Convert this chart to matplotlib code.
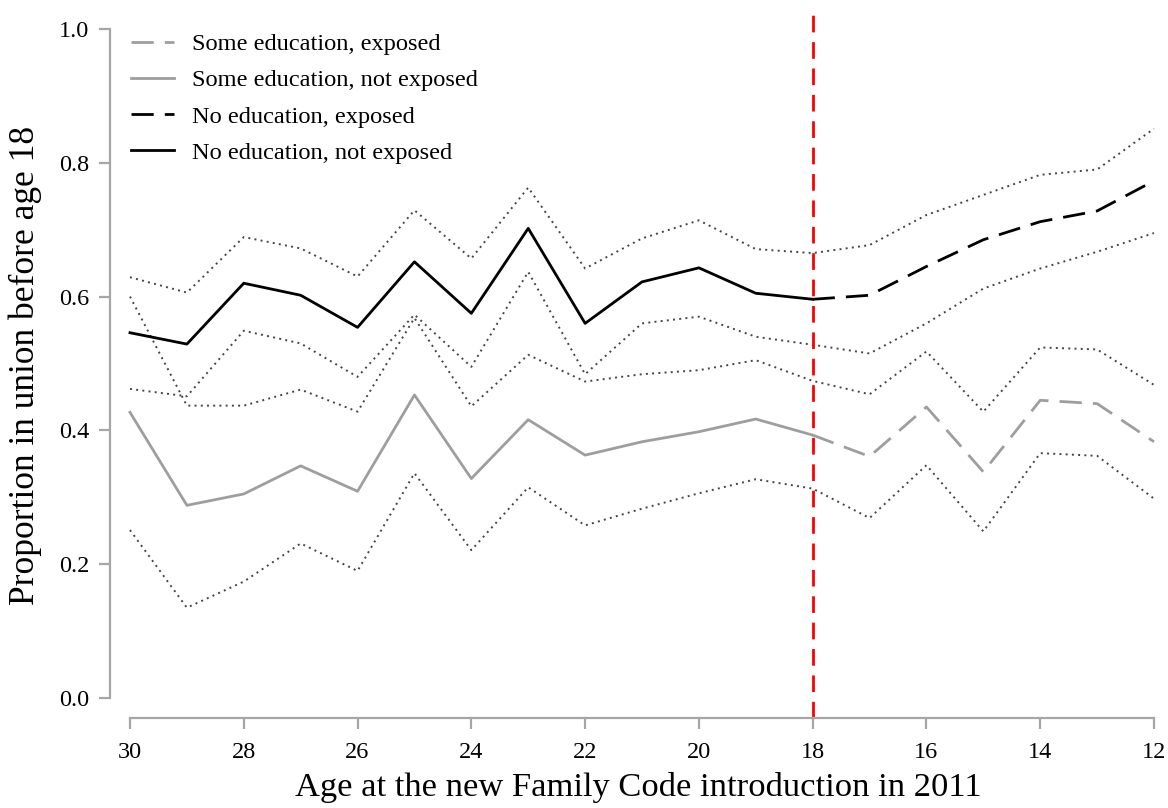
import matplotlib
matplotlib.use('Agg')
import matplotlib.pyplot as plt

plt.rcParams['font.family'] = ['Liberation Serif', 'DejaVu Serif']

# age at the reform, and proportion in union before 18
ages = [30, 29, 28, 27, 26, 25, 24, 23, 22, 21, 20, 19, 18, 17, 16, 15, 14, 13, 12]

no_edu = [0.546, 0.529, 0.620, 0.602, 0.554, 0.652, 0.575, 0.702, 0.560, 0.622,
          0.643, 0.605, 0.596, 0.602, 0.645, 0.685, 0.712, 0.728, 0.773]
no_edu_hi = [0.629, 0.606, 0.689, 0.672, 0.630, 0.729, 0.657, 0.763, 0.642, 0.687,
             0.714, 0.671, 0.665, 0.677, 0.722, 0.752, 0.782, 0.790, 0.851]
no_edu_lo = [0.462, 0.451, 0.549, 0.530, 0.480, 0.573, 0.495, 0.637, 0.484, 0.560,
             0.570, 0.540, 0.528, 0.515, 0.560, 0.612, 0.642, 0.667, 0.695]

some_edu = [0.427, 0.288, 0.305, 0.347, 0.309, 0.453, 0.328, 0.416, 0.363, 0.383,
            0.398, 0.417, 0.393, 0.361, 0.435, 0.338, 0.445, 0.440, 0.383]
some_edu_hi = [0.600, 0.437, 0.437, 0.461, 0.428, 0.568, 0.436, 0.513, 0.473, 0.484,
               0.490, 0.505, 0.474, 0.454, 0.518, 0.428, 0.524, 0.521, 0.468]
some_edu_lo = [0.251, 0.135, 0.174, 0.231, 0.190, 0.336, 0.221, 0.315, 0.258, 0.283,
               0.306, 0.327, 0.313, 0.269, 0.348, 0.249, 0.366, 0.362, 0.298]

cutoff = 18
xticks = [30, 28, 26, 24, 22, 20, 18, 16, 14, 12]
yticks = [0.0, 0.2, 0.4, 0.6, 0.8, 1.0]

gray = '#9e9e9e'
axis_gray = '#a6a6a6'
dot_col = '#444444'

W, H = 1168, 808
fig = plt.figure(figsize=(W / 100, H / 100), dpi=100)
# plot region in pixels: left 110, right 1166, top 12, bottom 718
ax = fig.add_axes([110 / W, 1 - 718 / H, (1166 - 110) / W, (718 - 12) / H])

px_per_year = (1154 - 130) / 18.0
px_per_unit = 698 - 29
ax.set_xlim(30 + 20 / px_per_year, 30 - (1166 - 130) / px_per_year)
ax.set_ylim(-(718 - 698) / px_per_unit, 1 + (29 - 12) / px_per_unit)

i18 = ages.index(cutoff)
pre = slice(0, i18 + 1)
post = slice(i18, len(ages))

dots = (0, (1, 2.2))
dash_data = (0, (8, 4))

# confidence bands
for arr in [no_edu_hi, no_edu_lo, some_edu_hi, some_edu_lo]:
    ax.plot(ages, arr, color=dot_col, lw=1.4, linestyle=dots)

# red cutoff
ax.axvline(cutoff, color='#ff0000', lw=2, linestyle=(0, (6, 3.5)))

ax.plot(ages[pre], some_edu[pre], color=gray, lw=2, label='Some education, not exposed')
ax.plot(ages[post], some_edu[post], color=gray, lw=2, linestyle=dash_data,
        label='Some education, exposed')
ax.plot(ages[pre], no_edu[pre], color='black', lw=2, label='No education, not exposed')
ax.plot(ages[post], no_edu[post], color='black', lw=2, linestyle=dash_data,
        label='No education, exposed')

handles, labels = ax.get_legend_handles_labels()
order = [1, 0, 3, 2]
leg = ax.legend([handles[k] for k in order], [labels[k] for k in order],
                loc='upper left', bbox_to_anchor=(131 / W, 1 - 33 / H),
                bbox_transform=fig.transFigure, frameon=False, fontsize=17.6,
                handlelength=1.75, handletextpad=0.75, labelspacing=0.58,
                borderaxespad=0, borderpad=0)

# R style detached axes
for s in ['top', 'right']:
    ax.spines[s].set_visible(False)
ax.spines['left'].set_bounds(0, 1)
ax.spines['bottom'].set_bounds(30, 12)
for s in ['left', 'bottom']:
    ax.spines[s].set_color(axis_gray)
    ax.spines[s].set_linewidth(1.6)

ax.set_xticks(xticks)
ax.set_yticks(yticks)
ax.set_yticklabels(['%.1f' % v for v in yticks])
ax.tick_params(axis='both', colors=axis_gray, width=1.6, length=8, labelsize=17.5,
               labelcolor='black')
ax.tick_params(axis='y', pad=7)
ax.tick_params(axis='x', pad=9)

ax.set_xlabel('Age at the new Family Code introduction in 2011', fontsize=24.8, labelpad=7)
ax.set_ylabel('Proportion in union before age 18', fontsize=25.5, labelpad=12)

fig.savefig('out.png', dpi=100)
